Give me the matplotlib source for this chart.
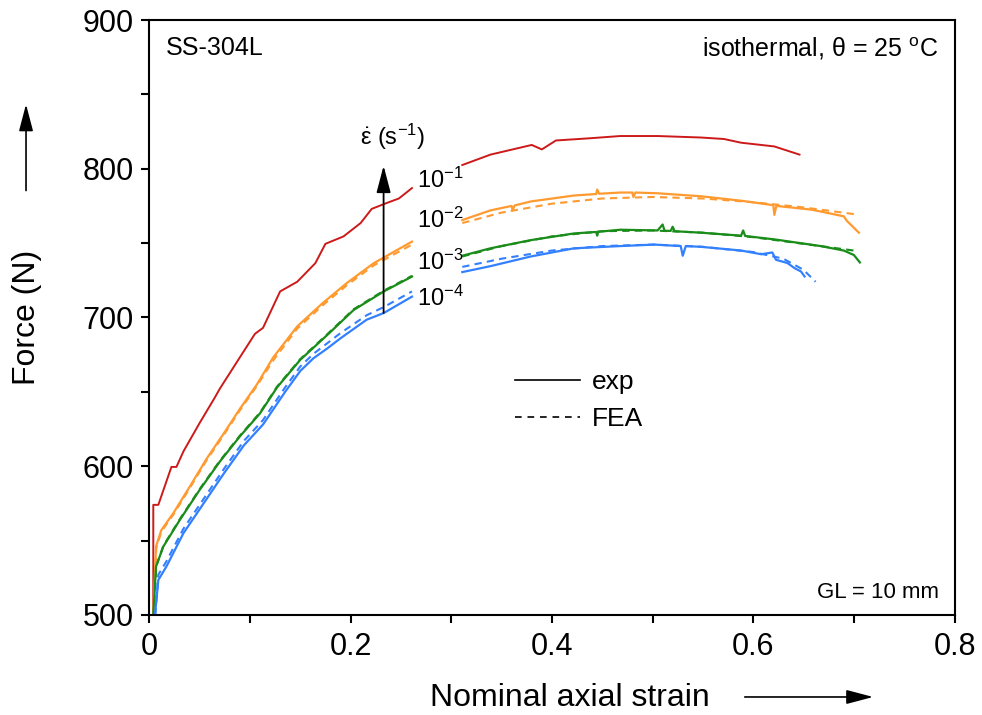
import numpy as np
import matplotlib
matplotlib.use("Agg")
import matplotlib.pyplot as plt
from matplotlib.lines import Line2D
from matplotlib.patches import FancyArrowPatch

plt.rcParams['font.family'] = ['Liberation Sans', 'DejaVu Sans']
plt.rcParams['mathtext.fontset'] = 'custom'
plt.rcParams['mathtext.rm'] = 'Liberation Sans'
plt.rcParams['mathtext.it'] = 'Liberation Sans:italic'

nan = np.nan

# strain rate 1e-1 (exp only)
r1_x = [0.004, 0.004, 0.009, 0.022, 0.027, 0.034, 0.050, 0.065, 0.070, 0.087, 0.105, 0.113, 0.130, 0.147,
        0.165, 0.175, 0.193, 0.210, 0.221, 0.236, 0.248, 0.261, nan,
        0.311, 0.339, 0.380, 0.390, 0.404, 0.438, 0.468, 0.505, 0.548, 0.571, 0.588, 0.621, 0.646]
r1_y = [500, 574, 574, 599.5, 599.5, 610, 629, 646, 652, 670, 689, 693, 717.5, 724,
        736.5, 749.5, 754.5, 763.5, 773, 777, 780, 787, nan,
        802.5, 809.5, 816, 813, 819, 820.5, 822, 822, 821, 820, 817.5, 815, 809.5]

# strain rate 1e-2
r2_x = [0.004, 0.0067, 0.012, 0.024, 0.040, 0.057, 0.074, 0.090, 0.107, 0.123, 0.147, 0.172, 0.196, 0.223, 0.261, nan,
        0.311, 0.339, 0.360, 0.361, 0.363, 0.379, 0.422, 0.444, 0.445, 0.447, 0.468, 0.480, 0.481, 0.483, 0.505,
        0.548, 0.588, 0.620, 0.621, 0.623, 0.658, 0.690, 0.693, 0.705]
r2_y = [500, 546, 557, 568.5, 586, 605, 622, 638.5, 655, 673, 694, 709.5, 723, 736.5, 751, nan,
        765.5, 772, 775, 772, 775.3, 778, 782, 783, 786, 783.2, 784, 784, 781, 784, 783.5,
        781.5, 778.5, 775.5, 769, 775, 772.5, 768, 765, 757]
r2_fea_x = [0.004, 0.007, 0.012, 0.024, 0.040, 0.057, 0.074, 0.090, 0.107, 0.123, 0.147, 0.172, 0.196, 0.223, 0.261, nan,
            0.311, 0.35, 0.40, 0.45, 0.50, 0.55, 0.60, 0.65, 0.70]
r2_fea_y = [500, 545, 556, 567.5, 585, 604, 621, 637.5, 654, 671, 692.5, 708, 721.5, 735, 749, nan,
            763.5, 770.5, 776.5, 780, 781, 780, 777.5, 774, 769.5]

# strain rate 1e-3
r3_x = [0.004, 0.0067, 0.014, 0.0305, 0.050, 0.070, 0.090, 0.110, 0.127, 0.150, 0.1765, 0.203, 0.233, 0.261, nan,
        0.311, 0.339, 0.379, 0.422, 0.444, 0.445, 0.446, 0.468, 0.505, 0.510, 0.512, 0.518, 0.520, 0.522,
        0.548, 0.588, 0.590, 0.592, 0.621, 0.657, 0.667, 0.690, 0.700, 0.706]
r3_y = [500, 532.5, 546, 564, 584, 603, 620, 635.5, 653, 671.5, 688, 705, 717.5, 727.5, nan,
        741.5, 746.5, 752, 756.5, 757.5, 755, 757.6, 759, 758.5, 762.5, 758.3, 758.2, 761, 758,
        757, 755, 758.5, 754.8, 752.5, 749, 748, 745, 742, 737]
r3_fea_x = [0.004, 0.007, 0.014, 0.0305, 0.050, 0.070, 0.090, 0.110, 0.127, 0.150, 0.1765, 0.203, 0.233, 0.261, nan,
            0.311, 0.35, 0.40, 0.45, 0.50, 0.55, 0.60, 0.65, 0.70]
r3_fea_y = [500, 533, 546.5, 564.5, 584.5, 603.5, 620.5, 636, 653.5, 672, 688.5, 705.5, 718, 728, nan,
            741, 748, 754.5, 758, 758.5, 757, 754, 749.5, 745]

# strain rate 1e-4
r4_x = [0.0057, 0.009, 0.017, 0.034, 0.054, 0.074, 0.094, 0.113, 0.135, 0.150, 0.163, 0.1765, 0.190, 0.216, 0.233,
        0.261, nan,
        0.311, 0.339, 0.379, 0.422, 0.468, 0.502, 0.528, 0.530, 0.533, 0.548, 0.588, 0.608, 0.619, 0.6226,
        0.634, 0.641, 0.6475, 0.651]
r4_y = [500, 523.5, 532.5, 555, 575, 595, 614, 628, 650, 664, 672.5, 679, 686, 698.5, 703,
        714, nan,
        730.5, 734.5, 741, 746.5, 748, 749, 748, 741.5, 748, 747.5, 745, 742.5, 743.7, 738.8,
        736.6, 733.2, 730.9, 727.6]
r4_fea_x = [0.006, 0.009, 0.017, 0.034, 0.054, 0.074, 0.094, 0.113, 0.135, 0.150, 0.163, 0.190, 0.216, 0.233, 0.261, nan,
            0.311, 0.35, 0.40, 0.45, 0.50, 0.55, 0.60, 0.63, 0.65, 0.662]
r4_fea_y = [500, 527, 536, 558, 578, 598, 617, 631, 653, 667, 675.5, 689.5, 701.5, 707, 717.5, nan,
            734, 739.5, 745, 748, 749, 747.5, 744, 739.5, 732, 724]

rate_labels = ['10$^{-1}$', '10$^{-2}$', '10$^{-3}$', '10$^{-4}$']
rate_label_y = [787, 760, 732, 707.5]

red = '#cc1a1a'
orange = '#ff9a30'
green = '#1a8c1a'
blue = '#3380ff'
dash = (0, (3.5, 2.5))
head = '-|>,head_length=1.1,head_width=0.29'

fig = plt.figure(figsize=(9.82, 7.15), dpi=100)
ax = fig.add_axes([0.152, 0.14, 0.820, 0.832])

ax.plot(r2_fea_x, r2_fea_y, color=orange, lw=1.5, ls=dash)
ax.plot(r3_fea_x, r3_fea_y, color=green, lw=1.5, ls=dash)
ax.plot(r4_fea_x, r4_fea_y, color=blue, lw=1.5, ls=dash)
ax.plot(r1_x, r1_y, color=red, lw=1.4)
ax.plot(r2_x, r2_y, color=orange, lw=1.6)
ax.plot(r3_x, r3_y, color=green, lw=1.6)
ax.plot(r4_x, r4_y, color=blue, lw=1.6)

ax.set_xlim(0, 0.8)
ax.set_ylim(500, 900)
ax.set_xticks([0, 0.2, 0.4, 0.6, 0.8])
ax.set_xticklabels(['0', '0.2', '0.4', '0.6', '0.8'])
ax.set_xticks([0.1, 0.3, 0.5, 0.7], minor=True)
ax.set_yticks([500, 600, 700, 800, 900])
ax.set_yticks([550, 650, 750, 850], minor=True)
ax.tick_params(which='both', direction='out', length=6, width=1.5, labelsize=22, top=False, right=False)
ax.tick_params(axis='x', pad=6)
ax.tick_params(axis='y', pad=5)
for s in ax.spines.values():
    s.set_linewidth(1.5)

# rate labels and arrow
for lab, yy in zip(rate_labels, rate_label_y):
    ax.text(0.2655, yy, lab, fontsize=17, ha='left', va='baseline')
ax.annotate('', xy=(0.2328, 802), xytext=(0.2328, 703),
            arrowprops=dict(arrowstyle=head, lw=1.3, color='k', mutation_scale=15, shrinkA=0, shrinkB=0))
ax.text(0.2415, 816, r'$\dot{\mathrm{\varepsilon}}$ (s$^{-1}$)', fontsize=17, ha='center', va='baseline')

ax.text(0.02, 0.941, 'SS-304L', transform=ax.transAxes, fontsize=18, ha='left', va='baseline')
ax.text(0.979, 0.939, r'isothermal, $\mathrm{\theta}$ = 25 $^{\rm o}$C', transform=ax.transAxes, fontsize=18,
        ha='right', va='baseline')
ax.text(0.981, 0.029, 'GL = 10 mm', transform=ax.transAxes, fontsize=16, ha='right', va='baseline')

handles = [Line2D([], [], color='k', lw=1.2), Line2D([], [], color='k', lw=1.2, ls=(0, (4, 3.5)))]
ax.legend(handles, ['exp', 'FEA'], loc='upper left', bbox_to_anchor=(0.4537, 0.412), frameon=False,
          fontsize=19, handlelength=2.46, handletextpad=0.45, labelspacing=0.5, borderpad=0, borderaxespad=0)

fig.text(0.5804, 0.0126, 'Nominal axial strain', fontsize=23, ha='center', va='baseline')
fig.text(0.027, 0.556, 'Force (N)', fontsize=23, ha='center', va='center', rotation=90)
fig.add_artist(FancyArrowPatch((0.7556, 0.0252), (0.892, 0.0252), transform=fig.transFigure,
                               arrowstyle=head, mutation_scale=15, lw=1.2, color='k'))
fig.add_artist(FancyArrowPatch((0.0265, 0.7296), (0.0265, 0.858), transform=fig.transFigure,
                               arrowstyle=head, mutation_scale=15, lw=1.2, color='k'))

fig.savefig('out.png', dpi=100)
